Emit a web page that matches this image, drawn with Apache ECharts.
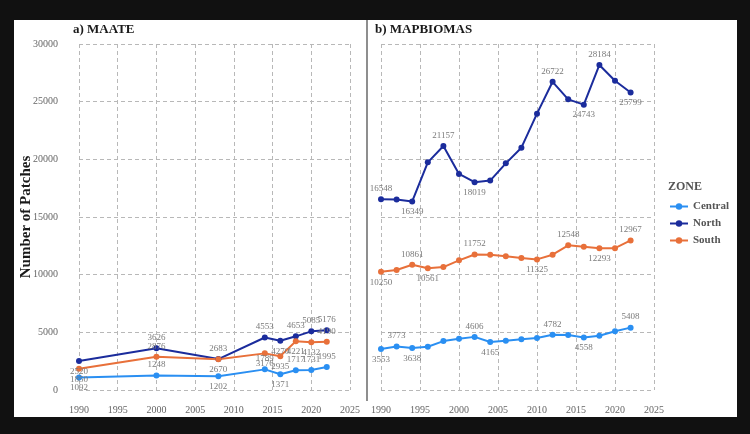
<!DOCTYPE html>
<html>
<head>
<meta charset="utf-8">
<script src="https://cdn.jsdelivr.net/npm/echarts@6/dist/echarts.min.js"></script>
<style>
  html, body { margin: 0; padding: 0; background: #111; }
  #chart {
    position: absolute;
    left: 14px; top: 20px;
    width: 723px; height: 397px;
    background: #fff;
  }
</style>
</head>
<body>
<div id="chart"></div>
<script>
// a) MAATE
const maateYears = [1990, 2000, 2008, 2014, 2016, 2018, 2020, 2022];
const maateCentral = [1092, 1248, 1202, 1789, 1371, 1717, 1731, 1995];
const maateNorth = [2520, 3626, 2683, 4553, 4270, 4653, 5085, 5176];
const maateSouth = [1850, 2876, 2670, 3176, 2935, 4221, 4132, 4190];

// b) MAPBIOMAS
const mbYears = [1990, 1992, 1994, 1996, 1998, 2000, 2002, 2004, 2006, 2008, 2010, 2012, 2014, 2016, 2018, 2020, 2022];
const mbCentral = [3553, 3773, 3638, 3750, 4240, 4440, 4606, 4165, 4270, 4410, 4500, 4782, 4760, 4558, 4700, 5100, 5408];
const mbNorth = [16548, 16520, 16349, 19740, 21157, 18730, 18019, 18160, 19650, 21010, 23960, 26722, 25200, 24743, 28184, 26820, 25799];
const mbSouth = [10250, 10400, 10861, 10561, 10660, 11240, 11752, 11730, 11590, 11440, 11325, 11730, 12548, 12420, 12293, 12300, 12967];

const yTicks = [0, 5000, 10000, 15000, 20000, 25000, 30000];

// which points carry a value label, and on which side ('t' above, 'b' below)
const labelSide = {
  maateCentral: ['b', 't', 'b', 't', 'b', 't', 't', 't'],
  maateNorth:   ['b', 't', 't', 't', 'b', 't', 't', 't'],
  maateSouth:   ['b', 't', 'b', 'b', 'b', 'b', 'b', 't'],
  mbCentral: ['b', 't', 'b', '', '', '', 't', 'b', '', '', '', 't', '', 'b', '', '', 't'],
  mbNorth:   ['t', '', 'b', '', 't', '', 'b', '', '', '', '', 't', '', 'b', 't', '', 'b'],
  mbSouth:   ['b', '', 't', 'b', '', '', 't', '', '', '', 'b', '', 't', '', 'b', '', 't']
};

const colors = { Central: '#2a8ff2', North: '#1b2c9c', South: '#e8703a' };
const serif = 'Liberation Serif';

function buildData(years, values, sides) {
  return years.map((y, i) => {
    const s = sides[i];
    const item = { value: [y, values[i]] };
    if (s) {
      item.label = { show: true, position: s === 't' ? 'top' : 'bottom' };
    }
    return item;
  });
}

function makeSeries(name, idx, years, values, sides) {
  return {
    name: name,
    type: 'line',
    xAxisIndex: idx,
    yAxisIndex: idx,
    data: buildData(years, values, sides),
    symbol: 'circle',
    symbolSize: 6,
    lineStyle: { width: 2, color: colors[name] },
    itemStyle: { color: colors[name] },
    label: {
      show: false,
      fontFamily: serif,
      fontSize: 9,
      color: '#7a7a7a',
      distance: 3,
      formatter: p => String(p.value[1])
    },
    emphasis: { disabled: true },
    animation: false
  };
}

const chart = echarts.init(document.getElementById('chart'));

const gridLine = { show: true, lineStyle: { type: [4, 3], color: '#b8b8b8', width: 1 } };

const xAxisBase = {
  type: 'value',
  min: 1990,
  max: 2025,
  interval: 5,
  axisLine: { show: false },
  axisTick: { show: false },
  axisLabel: { fontFamily: serif, fontSize: 10, color: '#666', margin: 15, formatter: v => String(v) },
  splitLine: gridLine
};

const yAxisBase = {
  type: 'value',
  min: yTicks[0],
  max: yTicks[yTicks.length - 1],
  interval: 5000,
  axisLine: { show: false },
  axisTick: { show: false },
  splitLine: gridLine
};

chart.setOption({
  animation: false,
  textStyle: { fontFamily: serif },
  grid: [
    { left: 65, top: 24, width: 271, height: 346 },
    { left: 367, top: 24, width: 273, height: 346 }
  ],
  xAxis: [
    Object.assign({ gridIndex: 0 }, xAxisBase),
    Object.assign({ gridIndex: 1 }, xAxisBase)
  ],
  yAxis: [
    Object.assign({ gridIndex: 0 }, yAxisBase, {
      axisLabel: { fontFamily: serif, fontSize: 10, color: '#666', margin: 21, formatter: v => String(v) },
      name: 'Number of Patches',
      nameLocation: 'middle',
      nameGap: 45,
      nameMoveOverlap: false,
      nameTextStyle: { fontFamily: serif, fontSize: 15, fontWeight: 'bold', color: '#1a1a1a' }
    }),
    Object.assign({ gridIndex: 1 }, yAxisBase, { axisLabel: { show: false } })
  ],
  legend: {
    orient: 'vertical',
    left: 650,
    top: 176,
    itemWidth: 18,
    itemHeight: 8,
    itemGap: 6,
    data: ['Central', 'North', 'South'],
    textStyle: { fontFamily: serif, fontSize: 11, fontWeight: 'bold', color: '#555' }
  },
  graphic: [
    { type: 'text', left: 59, top: 3, style: { text: 'a) MAATE', font: 'bold 13px "Liberation Serif"', fill: '#1a1a1a' } },
    { type: 'text', left: 361, top: 3, style: { text: 'b) MAPBIOMAS', font: 'bold 13px "Liberation Serif"', fill: '#1a1a1a' } },
    { type: 'text', left: 654, top: 161, style: { text: 'ZONE', font: 'bold 12px "Liberation Serif"', fill: '#555' } },
    { type: 'line', shape: { x1: 353, y1: 0, x2: 353, y2: 381 }, style: { stroke: '#444', lineWidth: 1.2 } }
  ],
  series: [
    makeSeries('Central', 0, maateYears, maateCentral, labelSide.maateCentral),
    makeSeries('North', 0, maateYears, maateNorth, labelSide.maateNorth),
    makeSeries('South', 0, maateYears, maateSouth, labelSide.maateSouth),
    makeSeries('Central', 1, mbYears, mbCentral, labelSide.mbCentral),
    makeSeries('North', 1, mbYears, mbNorth, labelSide.mbNorth),
    makeSeries('South', 1, mbYears, mbSouth, labelSide.mbSouth)
  ]
});
</script>
</body>
</html>
